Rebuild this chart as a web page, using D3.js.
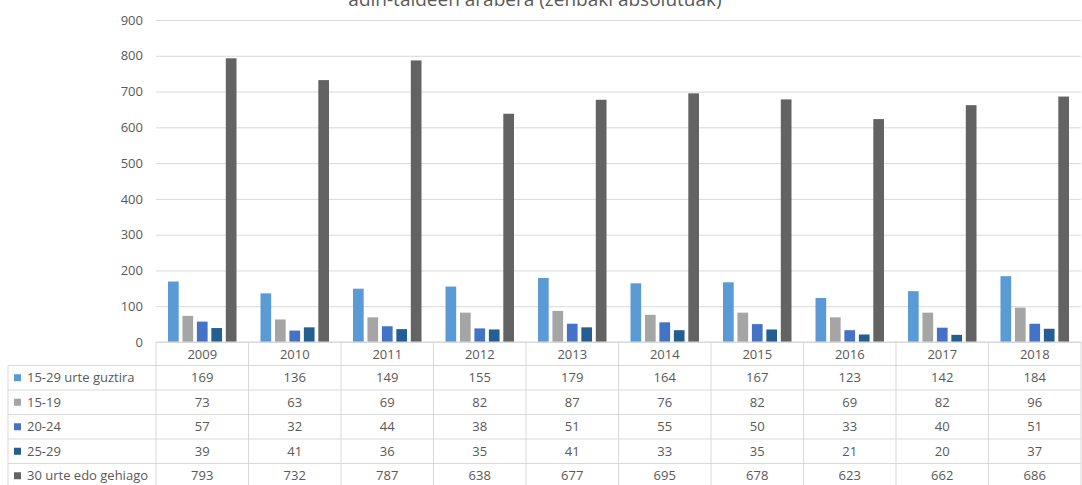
<!DOCTYPE html>
<html>
<head>
<meta charset="utf-8">
<script src="https://cdn.jsdelivr.net/npm/d3@7"></script>
<style>
  body { margin: 0; background: #fff; }
  text { font-family: "Open Sans", "Liberation Sans", sans-serif; fill: #595959; }
</style>
</head>
<body>
<svg id="chart" width="1082" height="485"></svg>
<script>
// data
var years = ['2009','2010','2011','2012','2013','2014','2015','2016','2017','2018']
var seriesNames = ['15-29 urte guztira','15-19','20-24','25-29','30 urte edo gehiago']
var total1529 = [169,136,149,155,179,164,167,123,142,184]
var age1519 = [73,63,69,82,87,76,82,69,82,96]
var age2024 = [57,32,44,38,51,55,50,33,40,51]
var age2529 = [39,41,36,35,41,33,35,21,20,37]
var age30plus = [793,732,787,638,677,695,678,623,662,686]
var yTicks = [0,100,200,300,400,500,600,700,800,900]
var colors = ['#5b9bd5','#a5a5a5','#4472c4','#255e91','#636363']
var title = 'adin-taldeen arabera (zenbaki absolutuak)'

var allSeries = [total1529, age1519, age2024, age2529, age30plus]

var svg = d3.select('#chart')
var plotLeft = 156, plotRight = 1081, plotTop = 20, plotBottom = 342
var tableLeft = 8, headH = 23.5, rowH = 24.5

var x0 = d3.scaleBand().domain(years).range([plotLeft, plotRight])
var x1 = d3.scaleBand().domain(d3.range(5)).range([12, x0.bandwidth() - 12]).paddingInner(0.26)
var y = d3.scaleLinear().domain([0, 900]).range([plotBottom, plotTop])

// title (cut at top)
svg.append('text')
  .attr('x', 535).attr('y', 6)
  .attr('text-anchor', 'middle')
  .attr('font-size', 19)
  .text(title)

// gridlines + y labels
var yAxis = d3.axisLeft(y).tickValues(yTicks).tickSize(-(plotRight - plotLeft)).tickPadding(13)
var gy = svg.append('g').attr('transform', 'translate(' + plotLeft + ',0)').call(yAxis)
gy.select('.domain').remove()
gy.selectAll('.tick line').attr('stroke', '#d9d9d9')
gy.selectAll('.tick text').attr('font-size', 13).style('fill', '#595959')

// bars
var groups = svg.append('g').selectAll('g')
  .data(years).enter().append('g')
  .attr('transform', function(d){ return 'translate(' + x0(d) + ',0)' })

groups.selectAll('rect')
  .data(function(d, i){ return allSeries.map(function(s, k){ return {k: k, v: s[i]} }) })
  .enter().append('rect')
  .attr('x', function(d){ return x1(d.k) })
  .attr('width', x1.bandwidth())
  .attr('y', function(d){ return y(d.v) })
  .attr('height', function(d){ return plotBottom - y(d.v) })
  .attr('fill', function(d){ return colors[d.k] })

// data table
var tbl = svg.append('g')
var lineColor = '#d9d9d9'
tbl.append('line').attr('x1', plotLeft).attr('x2', plotRight).attr('y1', plotBottom).attr('y2', plotBottom).attr('stroke', lineColor)
years.forEach(function(yr){
  tbl.append('text')
    .attr('x', x0(yr) + x0.bandwidth() / 2)
    .attr('y', plotBottom + headH / 2 + 5)
    .attr('text-anchor', 'middle').attr('font-size', 13)
    .text(yr)
})
years.concat(['end']).forEach(function(yr, i){
  var xx = i < years.length ? x0(yr) : plotRight
  tbl.append('line').attr('x1', xx).attr('x2', xx).attr('y1', plotBottom).attr('y2', 485).attr('stroke', lineColor)
})
tbl.append('line').attr('x1', tableLeft).attr('x2', tableLeft).attr('y1', plotBottom + headH).attr('y2', 485).attr('stroke', lineColor)

seriesNames.forEach(function(name, k){
  var top = plotBottom + headH + rowH * k
  tbl.append('line').attr('x1', tableLeft).attr('x2', plotRight).attr('y1', top).attr('y2', top).attr('stroke', lineColor)
  tbl.append('rect').attr('x', 14).attr('y', top + rowH / 2 - 3.5).attr('width', 7).attr('height', 7).attr('fill', colors[k])
  tbl.append('text').attr('x', 27).attr('y', top + rowH / 2 + 4.5).attr('font-size', 13).text(name)
  allSeries[k].forEach(function(v, i){
    tbl.append('text')
      .attr('x', x0(years[i]) + x0.bandwidth() / 2)
      .attr('y', top + rowH / 2 + 4.5)
      .attr('text-anchor', 'middle').attr('font-size', 13)
      .text(v)
  })
})
</script>
</body>
</html>
